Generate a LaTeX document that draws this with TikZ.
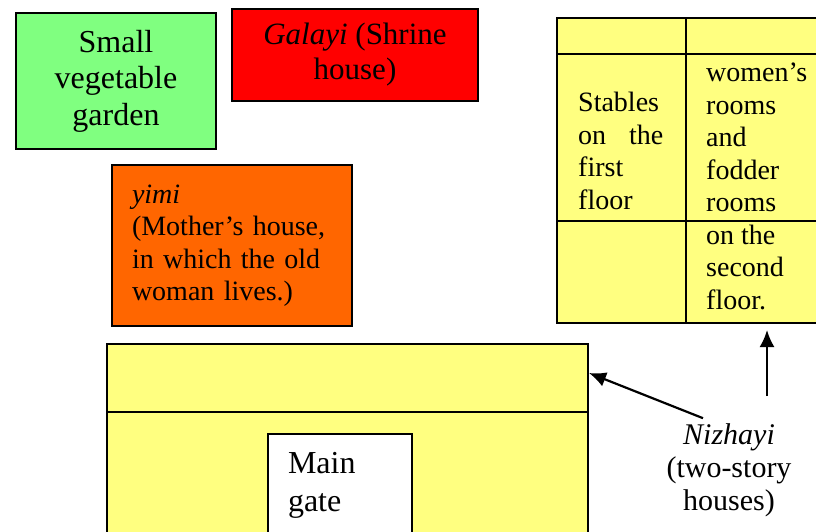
\documentclass[tikz,border=0pt]{standalone}
\usepackage{fontspec}
\setmainfont{Liberation Serif}
\usetikzlibrary{arrows.meta}
\definecolor{gardengreen}{RGB}{128,255,128}
\definecolor{shrinered}{RGB}{255,0,0}
\definecolor{yimiorange}{RGB}{255,102,0}
\definecolor{nizyellow}{RGB}{255,255,128}
\begin{document}
\begin{tikzpicture}[x=1pt, y=-1pt, house/.style={draw, line width=2pt, inner sep=0pt}, big/.style={font=\fontsize{32}{36.5}\selectfont}, small/.style={font=\fontsize{28}{32.5}\selectfont}, pointer/.style={-{Latex[length=17pt,width=15pt]}, line width=2.2pt}]
	\clip (0,0) rectangle (816,532);
	\node[house, fill=gardengreen, minimum width=200pt, minimum height=135pt, big, align=center] (garden) at (116,81) {Small\\vegetable\\garden};
	\node[house, fill=shrinered, minimum width=246pt, minimum height=92pt, font=\fontsize{31}{35}\selectfont, align=center] (shrine) at (355,55) {\textit{Galayi} (Shrine\\house)};
	\node[house, fill=yimiorange, minimum width=240pt, minimum height=161pt, small, text width=200pt, align=left] (yimi) at (232,245.5) {\textit{yimi}\\(Mother's house,\\in which the old\\woman lives.)};
	\node[house, fill=nizyellow, minimum width=273pt, minimum height=305pt] (upper) at (693.5,170.5) {};
	\draw[line width=2pt] (686,18) -- (686,323);
	\draw[line width=2pt] (557,54) -- (830,54);
	\draw[line width=2pt] (557,221) -- (830,221);
	\node[small, anchor=north west, align=left, inner sep=0pt] (stables) at (578,92) {Stables\\on\hspace{23pt}the\\first\\floor};
	\node[small, anchor=north west, align=left, inner sep=0pt] (rooms) at (706,63) {women's\\rooms\\and\\fodder\\rooms\\on the\\second\\floor.};
	\node[house, fill=nizyellow, minimum width=481pt, minimum height=194pt] (lower) at (347.5,441) {};
	\draw[line width=2pt] (107,412) -- (588,412);
	\node[house, fill=white, minimum width=144pt, minimum height=102pt, font=\fontsize{32}{38}\selectfont, text width=104pt, align=left] (gate) at (340,485) {Main\\gate};
	\node[font=\fontsize{30}{33}\selectfont, align=center, inner sep=0pt] (niz) at (729,470) {\textit{Nizhayi}\\(two-story\\houses)};
	\coordinate (lowtip) at (589,373);
	\coordinate (hightip) at (767,330);
	\draw[pointer] ([xshift=-26pt,yshift=5pt]niz.north) -- (lowtip);
	\draw[pointer] ([xshift=38pt,yshift=27pt]niz.north) -- (hightip);
\end{tikzpicture}
\end{document}
